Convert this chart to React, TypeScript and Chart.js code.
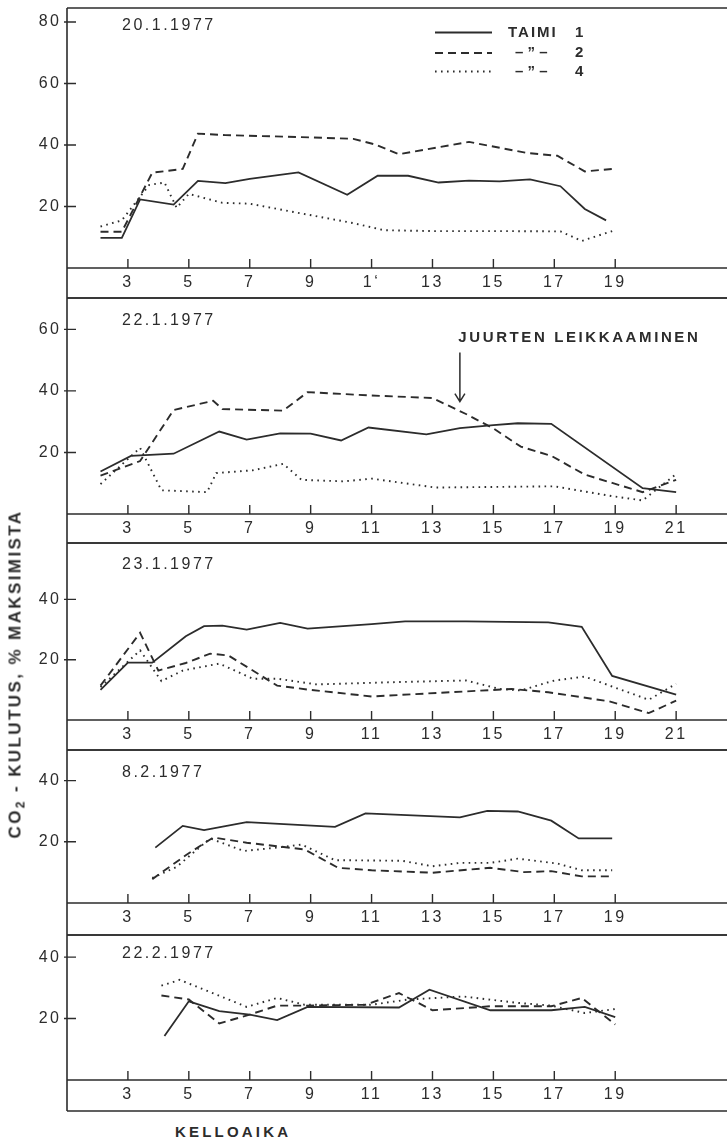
import { useEffect, useRef } from "react";
import { Chart, registerables } from "chart.js";

Chart.register(...registerables);

// CO2 uptake (% of maximum) by hour of day, one array per seedling and date.
// Each entry: [hour, percent]
const jan20Taimi1 = [[2.1, 9.8], [2.8, 9.8], [3.4, 22.3], [4.5, 20.6], [5.3, 28.3], [6.2, 27.6], [7.0, 29.0], [8.6, 31.1], [10.2, 23.8], [11.2, 30.0], [12.2, 30.0], [13.2, 27.8], [14.2, 28.4], [15.2, 28.2], [16.2, 28.8], [17.2, 26.6], [18.0, 19.2], [18.7, 15.5]];
const jan20Taimi2 = [[2.1, 11.8], [2.8, 11.8], [3.8, 31.0], [4.8, 32.2], [5.3, 43.7], [6.2, 43.2], [8.6, 42.6], [10.4, 42.0], [11.1, 40.2], [11.9, 37.0], [14.2, 41.0], [16.1, 37.4], [17.1, 36.5], [18.0, 31.4], [19.0, 32.3]];
const jan20Taimi4 = [[2.1, 13.5], [2.8, 15.5], [3.7, 27.0], [4.2, 27.8], [4.6, 19.6], [5.0, 24.1], [6.1, 21.2], [7.0, 20.9], [8.5, 18.1], [10.4, 14.6], [11.4, 12.3], [13.0, 12.0], [15.2, 12.0], [17.2, 11.9], [17.9, 8.8], [18.9, 12.0]];

const jan22Taimi1 = [[2.1, 13.8], [3.1, 18.9], [4.5, 19.6], [6.0, 26.8], [6.9, 24.2], [8.0, 26.2], [9.0, 26.1], [10.0, 23.9], [10.9, 28.1], [12.8, 25.9], [13.9, 27.9], [15.0, 28.9], [15.8, 29.5], [16.9, 29.3], [19.9, 8.4], [21.0, 7.1]];
const jan22Taimi2 = [[2.1, 12.5], [3.4, 17.2], [4.5, 33.8], [5.8, 36.8], [6.1, 34.1], [8.1, 33.6], [8.9, 39.6], [11.0, 38.5], [13.0, 37.7], [14.1, 32.5], [15.0, 27.8], [15.9, 21.9], [16.9, 18.9], [18.0, 12.8], [18.9, 10.1], [19.9, 7.1], [21.0, 11.1]];
const jan22Taimi4 = [[2.1, 9.7], [3.4, 21.5], [4.1, 7.7], [5.6, 7.1], [5.9, 13.3], [7.1, 14.2], [8.1, 16.3], [8.7, 11.1], [10.1, 10.6], [11.0, 11.5], [13.1, 8.6], [17.0, 9.0], [18.9, 5.8], [19.9, 4.4], [21.0, 13.0]];

const jan23Taimi1 = [[2.1, 10.0], [3.0, 19.0], [3.8, 19.0], [4.9, 27.8], [5.5, 31.1], [6.1, 31.3], [6.9, 30.0], [8.0, 32.2], [8.9, 30.3], [11.0, 31.8], [12.1, 32.7], [14.1, 32.7], [16.8, 32.4], [17.9, 30.9], [18.9, 14.6], [21.0, 8.4]];
const jan23Taimi2 = [[2.1, 11.4], [3.4, 28.9], [4.0, 16.4], [4.9, 18.9], [5.7, 22.0], [6.3, 21.4], [7.9, 11.4], [8.9, 10.1], [11.0, 7.8], [15.6, 10.3], [16.8, 9.2], [18.8, 6.2], [20.1, 2.3], [21.0, 6.4]];
const jan23Taimi4 = [[2.1, 10.9], [3.4, 23.1], [4.1, 12.9], [4.8, 16.4], [6.0, 18.7], [7.1, 13.7], [7.9, 13.7], [9.2, 11.8], [11.9, 12.6], [14.1, 13.1], [15.2, 10.3], [15.9, 9.8], [17.0, 13.1], [18.0, 14.4], [20.1, 6.7], [21.0, 12.0]];

const feb8Taimi1 = [[3.9, 18.1], [4.8, 25.2], [5.5, 23.8], [6.9, 26.4], [9.8, 24.9], [10.8, 29.3], [13.9, 28.0], [14.8, 30.1], [15.8, 29.9], [16.9, 26.9], [17.8, 21.1], [18.9, 21.1]];
const feb8Taimi2 = [[3.8, 7.8], [4.9, 15.6], [5.8, 21.4], [6.9, 19.7], [8.8, 17.5], [9.9, 11.5], [11.0, 10.7], [13.0, 9.9], [14.9, 11.5], [16.0, 10.1], [16.9, 10.4], [17.9, 8.7], [18.9, 8.7]];
const feb8Taimi4 = [[3.8, 8.2], [4.6, 11.8], [5.7, 21.1], [6.8, 17.0], [7.9, 18.1], [8.7, 19.1], [9.8, 14.0], [12.0, 13.8], [13.0, 12.0], [13.9, 13.1], [14.9, 13.1], [15.8, 14.5], [17.1, 12.9], [17.9, 10.7], [18.9, 10.7]];

const feb22Taimi1 = [[4.2, 14.3], [5.0, 25.6], [6.0, 22.4], [7.0, 21.3], [7.9, 19.5], [8.9, 23.8], [11.9, 23.6], [12.9, 29.4], [14.9, 22.7], [16.9, 22.7], [18.0, 23.8], [19.0, 20.5]];
const feb22Taimi2 = [[4.1, 27.5], [5.0, 26.2], [6.0, 18.4], [7.0, 21.3], [7.9, 24.2], [8.8, 24.2], [10.8, 24.5], [11.9, 28.3], [13.0, 22.7], [14.9, 24.0], [16.9, 24.0], [17.9, 26.7], [19.0, 18.1]];
const feb22Taimi4 = [[4.1, 30.7], [4.7, 32.6], [6.9, 23.8], [7.9, 26.7], [8.8, 24.5], [11.0, 24.5], [12.2, 26.2], [14.0, 27.2], [15.8, 25.1], [16.9, 24.2], [18.0, 21.8], [19.0, 23.1]];

// Axis ticks and labels
const hourTicksTo19 = [3, 5, 7, 9, 11, 13, 15, 17, 19];
const hourTicksTo21 = [3, 5, 7, 9, 11, 13, 15, 17, 19, 21];
const hourLabelsJan20 = ["3", "5", "7", "9", "1\u2018", "13", "15", "17", "19"];
const hourLabelsTo19 = ["3", "5", "7", "9", "11", "13", "15", "17", "19"];
const hourLabelsTo21 = ["3", "5", "7", "9", "11", "13", "15", "17", "19", "21"];
const percentTicksTo80 = [20, 40, 60, 80];
const percentTicksTo60 = [20, 40, 60];
const percentTicksTo40 = [20, 40];

const dateLabels = ["20.1.1977", "22.1.1977", "23.1.1977", "8.2.1977", "22.2.1977"];
const seriesNames = ["TAIMI 1", "TAIMI 2", "TAIMI 4"];
const legendTexts = ["TAIMI", "\u2013 \u201D \u2013", "\u2013 \u201D \u2013"];
const legendNumbers = ["1", "2", "4"];
const noteText = "JUURTEN LEIKKAAMINEN";

// Root-cutting note: hour of the arrow, arrow top/tip and text position in %
const noteHour = 13.9;
const noteArrowTop = 52.5;
const noteArrowTip = 36.5;
const noteTextHour = 13.85;
const noteTextLevel = 57.4;

const INK = "#2c2c2c";
const FONT = '"Liberation Sans", Arial, sans-serif';
const HOUR_MIN = 1;
const HOUR_MAX = 22.67;
const PLOT_LEFT = 67;
const WIDTH = 727;

type Pt = number[];
type PanelDef = {
  date: string;
  series: Pt[][];
  xTicks: number[];
  xLabels: string[];
  yTicks: number[];
  yMax: number;
  top: number;
  axis: number;
  bottom: number;
  dateDy: number;
  legend?: boolean;
  note?: boolean;
};

const panels: PanelDef[] = [
  { date: dateLabels[0], series: [jan20Taimi1, jan20Taimi2, jan20Taimi4], xTicks: hourTicksTo19, xLabels: hourLabelsJan20, yTicks: percentTicksTo80, yMax: 84.55, top: 8, axis: 268, bottom: 298, dateDy: 18, legend: true },
  { date: dateLabels[1], series: [jan22Taimi1, jan22Taimi2, jan22Taimi4], xTicks: hourTicksTo21, xLabels: hourLabelsTo21, yTicks: percentTicksTo60, yMax: 70.2, top: 298, axis: 514, bottom: 543, dateDy: 23, note: true },
  { date: dateLabels[2], series: [jan23Taimi1, jan23Taimi2, jan23Taimi4], xTicks: hourTicksTo21, xLabels: hourLabelsTo21, yTicks: percentTicksTo40, yMax: 58.7, top: 543, axis: 720, bottom: 750, dateDy: 22 },
  { date: dateLabels[3], series: [feb8Taimi1, feb8Taimi2, feb8Taimi4], xTicks: hourTicksTo19, xLabels: hourLabelsTo19, yTicks: percentTicksTo40, yMax: 50, top: 750, axis: 903, bottom: 935, dateDy: 23 },
  { date: dateLabels[4], series: [feb22Taimi1, feb22Taimi2, feb22Taimi4], xTicks: hourTicksTo19, xLabels: hourLabelsTo19, yTicks: percentTicksTo40, yMax: 47.2, top: 935, axis: 1080, bottom: 1111, dateDy: 19 },
];

const lineStyles = [
  { borderWidth: 1.8, borderDash: [] as number[] },
  { borderWidth: 1.9, borderDash: [8, 5] },
  { borderWidth: 1.9, borderDash: [1.6, 4.4] },
];

const PAD = 2;
const TICK_SPACING = 2.5;

function drawLegend(ctx: CanvasRenderingContext2D, top: number) {
  const rows = [24.5, 45, 63.5];
  ctx.save();
  ctx.strokeStyle = INK;
  ctx.fillStyle = INK;
  ctx.textBaseline = "middle";
  rows.forEach((dy, i) => {
    const y = top + dy;
    ctx.lineWidth = lineStyles[i].borderWidth;
    ctx.setLineDash(lineStyles[i].borderDash);
    ctx.beginPath();
    ctx.moveTo(435, y);
    ctx.lineTo(492, y);
    ctx.stroke();
    ctx.setLineDash([]);
    (ctx as any).letterSpacing = i === 0 ? "2px" : "0px";
    ctx.font = `bold 15px ${FONT}`;
    ctx.fillText(legendTexts[i], i === 0 ? 508 : 515, y);
    (ctx as any).letterSpacing = "0px";
    ctx.fillText(legendNumbers[i], 575, y);
  });
  ctx.restore();
}

function makePlugin(p: PanelDef) {
  return {
    id: "panelFrame",
    beforeDraw(chart: any) {
      chart.ctx.letterSpacing = `${TICK_SPACING}px`;
    },
    afterDraw(chart: any) {
      const { ctx, chartArea: a, height } = chart;
      const xs = chart.scales.x;
      const ys = chart.scales.y;
      ctx.save();
      ctx.letterSpacing = "0px";
      ctx.strokeStyle = INK;
      ctx.lineWidth = 1.6;
      ctx.setLineDash([]);
      ctx.beginPath();
      ctx.moveTo(a.left, a.top);
      ctx.lineTo(WIDTH, a.top);
      ctx.moveTo(a.left, a.top);
      ctx.lineTo(a.left, height - PAD);
      ctx.moveTo(a.left, a.bottom);
      ctx.lineTo(WIDTH, a.bottom);
      ctx.moveTo(a.left, height - PAD);
      ctx.lineTo(WIDTH, height - PAD);
      ctx.stroke();

      // inward tick marks on both axes
      ctx.lineWidth = 1.4;
      ctx.beginPath();
      xs.ticks.forEach((t: any) => {
        const px = xs.getPixelForValue(t.value);
        ctx.moveTo(px, a.bottom);
        ctx.lineTo(px, a.bottom - 9);
      });
      ys.ticks.forEach((t: any) => {
        const py = ys.getPixelForValue(t.value);
        ctx.moveTo(a.left - 3, py);
        ctx.lineTo(a.left + 9, py);
      });
      ctx.stroke();

      // date of the measurement day
      ctx.fillStyle = INK;
      ctx.font = `16px ${FONT}`;
      ctx.letterSpacing = "2.5px";
      ctx.textBaseline = "middle";
      ctx.textAlign = "left";
      ctx.fillText(p.date, a.left + 55, a.top + p.dateDy);
      ctx.letterSpacing = "0px";

      if (p.legend) drawLegend(ctx, a.top);

      if (p.note) {
        const nx = xs.getPixelForValue(noteHour);
        const y0 = ys.getPixelForValue(noteArrowTop);
        const y1 = ys.getPixelForValue(noteArrowTip);
        ctx.lineWidth = 1.5;
        ctx.beginPath();
        ctx.moveTo(nx, y0);
        ctx.lineTo(nx, y1);
        ctx.moveTo(nx - 5, y1 - 8);
        ctx.lineTo(nx, y1);
        ctx.lineTo(nx + 5, y1 - 8);
        ctx.stroke();
        ctx.font = `bold 15px ${FONT}`;
        ctx.letterSpacing = "2.6px";
        ctx.fillText(noteText, xs.getPixelForValue(noteTextHour), ys.getPixelForValue(noteTextLevel));
      }
      ctx.restore();
      ctx.letterSpacing = "0px";
    },
  };
}

function Panel({ p }: { p: PanelDef }) {
  const ref = useRef<HTMLCanvasElement>(null);
  const h = p.bottom - p.top + PAD * 2;

  useEffect(() => {
    if (!ref.current) return;
    const chart = new Chart(ref.current, {
      type: "line",
      data: {
        datasets: p.series.map((s, i) => ({
          label: seriesNames[i],
          data: s.map(([x, y]) => ({ x, y })),
          borderColor: INK,
          borderWidth: lineStyles[i].borderWidth,
          borderDash: lineStyles[i].borderDash,
          borderCapStyle: "butt",
          pointRadius: 0,
          tension: 0,
          fill: false,
        })),
      },
      options: {
        animation: false,
        responsive: false,
        devicePixelRatio: 1,
        layout: { padding: { top: PAD, bottom: PAD, left: 0, right: 0 } },
        plugins: { legend: { display: false }, tooltip: { enabled: false } },
        scales: {
          x: {
            type: "linear",
            min: HOUR_MIN,
            max: HOUR_MAX,
            afterBuildTicks: (s: any) => {
              s.ticks = p.xTicks.map((v) => ({ value: v }));
            },
            afterFit: (s: any) => {
              s.height = p.bottom - p.axis;
              s.paddingLeft = 0;
              s.paddingRight = 0;
            },
            grid: { display: false, drawTicks: false },
            border: { display: false },
            ticks: {
              autoSkip: false,
              maxRotation: 0,
              padding: 5,
              color: INK,
              font: { family: FONT, size: 16 },
              callback: (_v: any, i: number) => p.xLabels[i],
            },
          },
          y: {
            type: "linear",
            min: 0,
            max: p.yMax,
            afterBuildTicks: (s: any) => {
              s.ticks = p.yTicks.map((v) => ({ value: v }));
            },
            afterFit: (s: any) => {
              s.width = PLOT_LEFT;
              s.paddingTop = 0;
              s.paddingBottom = 0;
            },
            grid: { display: false, drawTicks: false },
            border: { display: false },
            ticks: {
              padding: 8 - TICK_SPACING,
              color: INK,
              font: { family: FONT, size: 16 },
              callback: (v: any) => String(v),
            },
          },
        },
      } as any,
      plugins: [makePlugin(p)],
    });
    return () => chart.destroy();
  }, [p]);

  return (
    <canvas
      ref={ref}
      width={WIDTH}
      height={h}
      style={{ position: "absolute", left: 0, top: p.top - PAD, width: WIDTH, height: h }}
    />
  );
}

export default function App() {
  return (
    <div
      style={{
        position: "absolute",
        left: 0,
        top: 0,
        width: WIDTH,
        height: 1143,
        background: "#ffffff",
        overflow: "hidden",
        color: INK,
        fontFamily: FONT,
      }}
    >
      {panels.map((p, i) => (
        <Panel key={i} p={p} />
      ))}
      <div
        style={{
          position: "absolute",
          left: 15.5,
          top: 674,
          transform: "translate(-50%, -50%) rotate(-90deg)",
          whiteSpace: "nowrap",
          fontWeight: "bold",
          fontSize: 17,
          letterSpacing: "2.4px",
          lineHeight: "20px",
        }}
      >
        CO<span style={{ fontSize: 12, position: "relative", top: 4 }}>2</span> - KULUTUS, % MAKSIMISTA
      </div>
      <div
        style={{
          position: "absolute",
          left: 175,
          top: 1123,
          whiteSpace: "nowrap",
          fontWeight: "bold",
          fontSize: 15,
          letterSpacing: "3.2px",
          lineHeight: "18px",
        }}
      >
        KELLOAIKA
      </div>
    </div>
  );
}
